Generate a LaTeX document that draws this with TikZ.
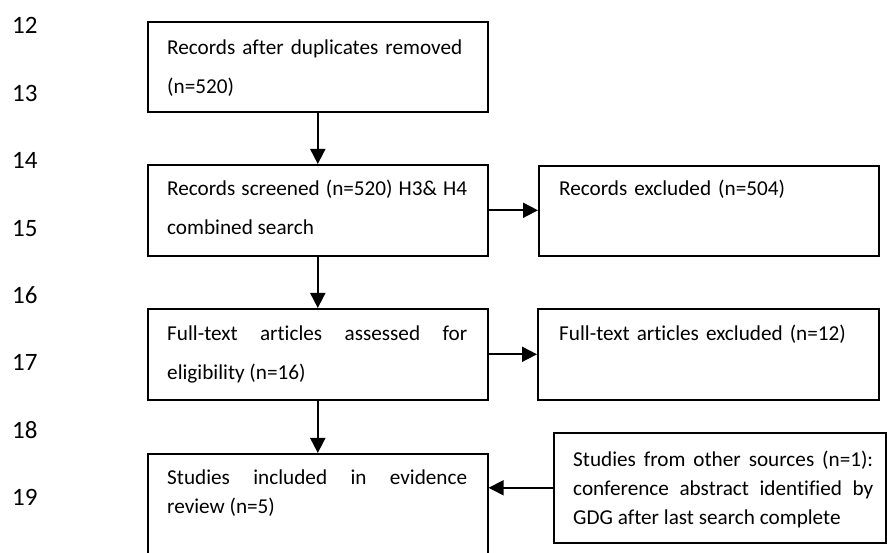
\documentclass[tikz,border=0pt]{standalone}
\usepackage{fontspec}
\setmainfont{Carlito}[Ligatures=NoCommon]
\usetikzlibrary{arrows.meta}
\begin{document}
\begin{tikzpicture}[x=1pt,y=-1pt,
  box/.style={draw, line width=1.6pt, inner sep=0, anchor=north west},
  arr/.style={line width=1.8pt, -{Triangle[length=15pt,width=15pt]}},
  txt/.style={inner sep=0, anchor=base west, text width=300pt, font=\fontsize{21.2}{39}\selectfont},
  txtb/.style={inner sep=0, anchor=base west, text width=300pt, font=\fontsize{21.2}{29}\selectfont},
  num/.style={inner sep=0, anchor=base west, font=\fontsize{25}{30}\selectfont}]
\useasboundingbox (0,0) rectangle (887,553);
\clip (0,0) rectangle (887,553);
% line numbers
\foreach \n [count=\i from 0] in {12,...,19}
  \node[num] (ln\n) at (12,34+67.4*\i) {\n};
% boxes
\node[box, minimum width=340pt, minimum height=90pt] (b1) at (147,21) {};
\node[box, minimum width=340pt, minimum height=91pt] (b2) at (147,164) {};
\node[box, minimum width=340pt, minimum height=90pt] (e1) at (538,165) {};
\node[box, minimum width=340pt, minimum height=91pt] (b3) at (147,308) {};
\node[box, minimum width=341pt, minimum height=91pt] (e2) at (537,308) {};
\node[box, minimum width=340pt, minimum height=130pt] (b4) at (147,453) {};
\node[box, minimum width=332pt, minimum height=110pt] (s) at (553,432) {};
% texts
\node[txt, align=left] (t1) at (167,55) {Records after duplicates removed\\(n=520)};
\node[txt, align=justify] (t2) at (167,196) {Records screened (n=520) H3\&\ H4\linebreak combined search};
\node[txt, align=left] (t3) at (559,196) {Records excluded (n=504)};
\node[txt, align=justify] (t4) at (167,341) {Full-text articles assessed for\linebreak eligibility (n=16)};
\node[txt, align=left] (t5) at (559,341) {Full-text articles excluded (n=12)};
\node[txtb, align=justify] (t6) at (167,484) {Studies included in evidence\linebreak review (n=5)};
\node[txtb, align=justify] (t7) at (573,467) {Studies from other sources (n=1):\linebreak conference abstract identified by\linebreak GDG after last search complete};
% arrows
\draw[arr] (b1.south) -- (b2.north);
\draw[arr] (b2.south) -- (b3.north);
\draw[arr] (b3.south) -- (b4.north);
\draw[arr] (b2.east) -- (b2.east -| e1.west);
\draw[arr] (b3.east) -- (b3.east -| e2.west);
\draw[arr] (s.west) -- (s.west -| b4.east);
\end{tikzpicture}
\end{document}
